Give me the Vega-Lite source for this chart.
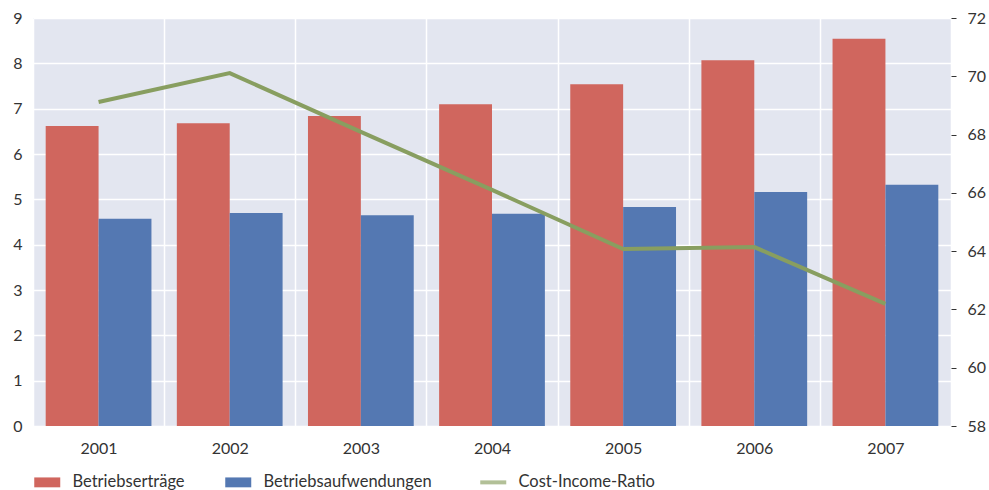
{
  "$schema": "https://vega.github.io/schema/vega-lite/v6.json",
  "width": 918,
  "height": 408,
  "autosize": {"type": "none"},
  "padding": {"left": 33, "top": 18, "right": 38, "bottom": 64},
  "background": "white",
  "config": {
    "view": {"fill": "#E3E6F0", "stroke": null},
    "font": "Lato",
    "axis": {"labelFont": "Lato", "labelFontSize": 16, "labelColor": "#333333", "title": null},
    "legend": {"labelFont": "Lato", "labelFontSize": 16.5, "labelColor": "#333333"}
  },
  "datasets": {
    "bars": [
      {"year": "2001", "series": "Betriebserträge", "value": 6.62},
      {"year": "2001", "series": "Betriebsaufwendungen", "value": 4.57},
      {"year": "2002", "series": "Betriebserträge", "value": 6.68},
      {"year": "2002", "series": "Betriebsaufwendungen", "value": 4.70},
      {"year": "2003", "series": "Betriebserträge", "value": 6.84},
      {"year": "2003", "series": "Betriebsaufwendungen", "value": 4.65},
      {"year": "2004", "series": "Betriebserträge", "value": 7.10},
      {"year": "2004", "series": "Betriebsaufwendungen", "value": 4.68},
      {"year": "2005", "series": "Betriebserträge", "value": 7.54},
      {"year": "2005", "series": "Betriebsaufwendungen", "value": 4.83},
      {"year": "2006", "series": "Betriebserträge", "value": 8.07},
      {"year": "2006", "series": "Betriebsaufwendungen", "value": 5.16},
      {"year": "2007", "series": "Betriebserträge", "value": 8.54},
      {"year": "2007", "series": "Betriebsaufwendungen", "value": 5.32}
    ],
    "cir": [
      {"year": "2001", "ratio": 69.12},
      {"year": "2002", "ratio": 70.11},
      {"year": "2003", "ratio": 68.09},
      {"year": "2004", "ratio": 66.10},
      {"year": "2005", "ratio": 64.07},
      {"year": "2006", "ratio": 64.14},
      {"year": "2007", "ratio": 62.19}
    ]
  },
  "encoding": {
    "x": {
      "field": "year",
      "type": "nominal",
      "scale": {"paddingInner": 0, "paddingOuter": 0},
      "axis": {
        "orient": "bottom",
        "domain": false,
        "ticks": false,
        "tickBand": "extent",
        "grid": true,
        "gridColor": "white",
        "gridWidth": 1.5,
        "labelAngle": 0,
        "labelPadding": 14
      }
    }
  },
  "layer": [
    {
      "data": {"name": "bars"},
      "mark": {"type": "bar"},
      "encoding": {
        "xOffset": {
          "field": "series",
          "type": "nominal",
          "scale": {"domain": ["Betriebserträge", "Betriebsaufwendungen"], "paddingInner": 0, "paddingOuter": 0.24}
        },
        "y": {
          "field": "value",
          "type": "quantitative",
          "scale": {"domain": [0, 9], "nice": false},
          "axis": {
            "orient": "left",
            "domain": false,
            "ticks": false,
            "values": [0, 1, 2, 3, 4, 5, 6, 7, 8, 9],
            "grid": true,
            "gridColor": "white",
            "gridWidth": 1.5,
            "labelPadding": 11
          }
        },
        "color": {
          "field": "series",
          "type": "nominal",
          "scale": {
            "domain": ["Betriebserträge", "Betriebsaufwendungen", "Cost-Income-Ratio"],
            "range": ["#D0665E", "#5478B2", "#889E60"]
          },
          "legend": {
            "title": null,
            "orient": "none",
            "direction": "horizontal",
            "legendX": 6,
            "legendY": 456,
            "symbolSize": 676,
            "labelOffset": 17,
            "labelLimit": 400,
            "columnPadding": 40,
            "padding": 0,
            "encode": {
              "symbols": {
                "update": {
                  "shape": {"signal": "datum.value === 'Cost-Income-Ratio' ? 'stroke' : 'M-1,-0.38H1V0.38H-1Z'"},
                  "strokeWidth": {"signal": "datum.value === 'Cost-Income-Ratio' ? 4 : 0"},
                  "strokeOpacity": {"signal": "datum.value === 'Cost-Income-Ratio' ? 0.65 : 1"},
                  "opacity": {"value": 1}
                }
              }
            }
          }
        }
      }
    },
    {
      "data": {"name": "cir"},
      "mark": {"type": "line", "strokeWidth": 4},
      "encoding": {
        "y": {
          "field": "ratio",
          "type": "quantitative",
          "scale": {"domain": [58, 72], "nice": false},
          "axis": {
            "orient": "right",
            "domain": false,
            "ticks": true,
            "tickSize": 5,
            "tickColor": "#333333",
            "values": [58, 60, 62, 64, 66, 68, 70, 72],
            "grid": false,
            "labelPadding": 11
          }
        },
        "color": {"datum": "Cost-Income-Ratio"}
      }
    }
  ],
  "resolve": {"scale": {"y": "independent"}}
}
